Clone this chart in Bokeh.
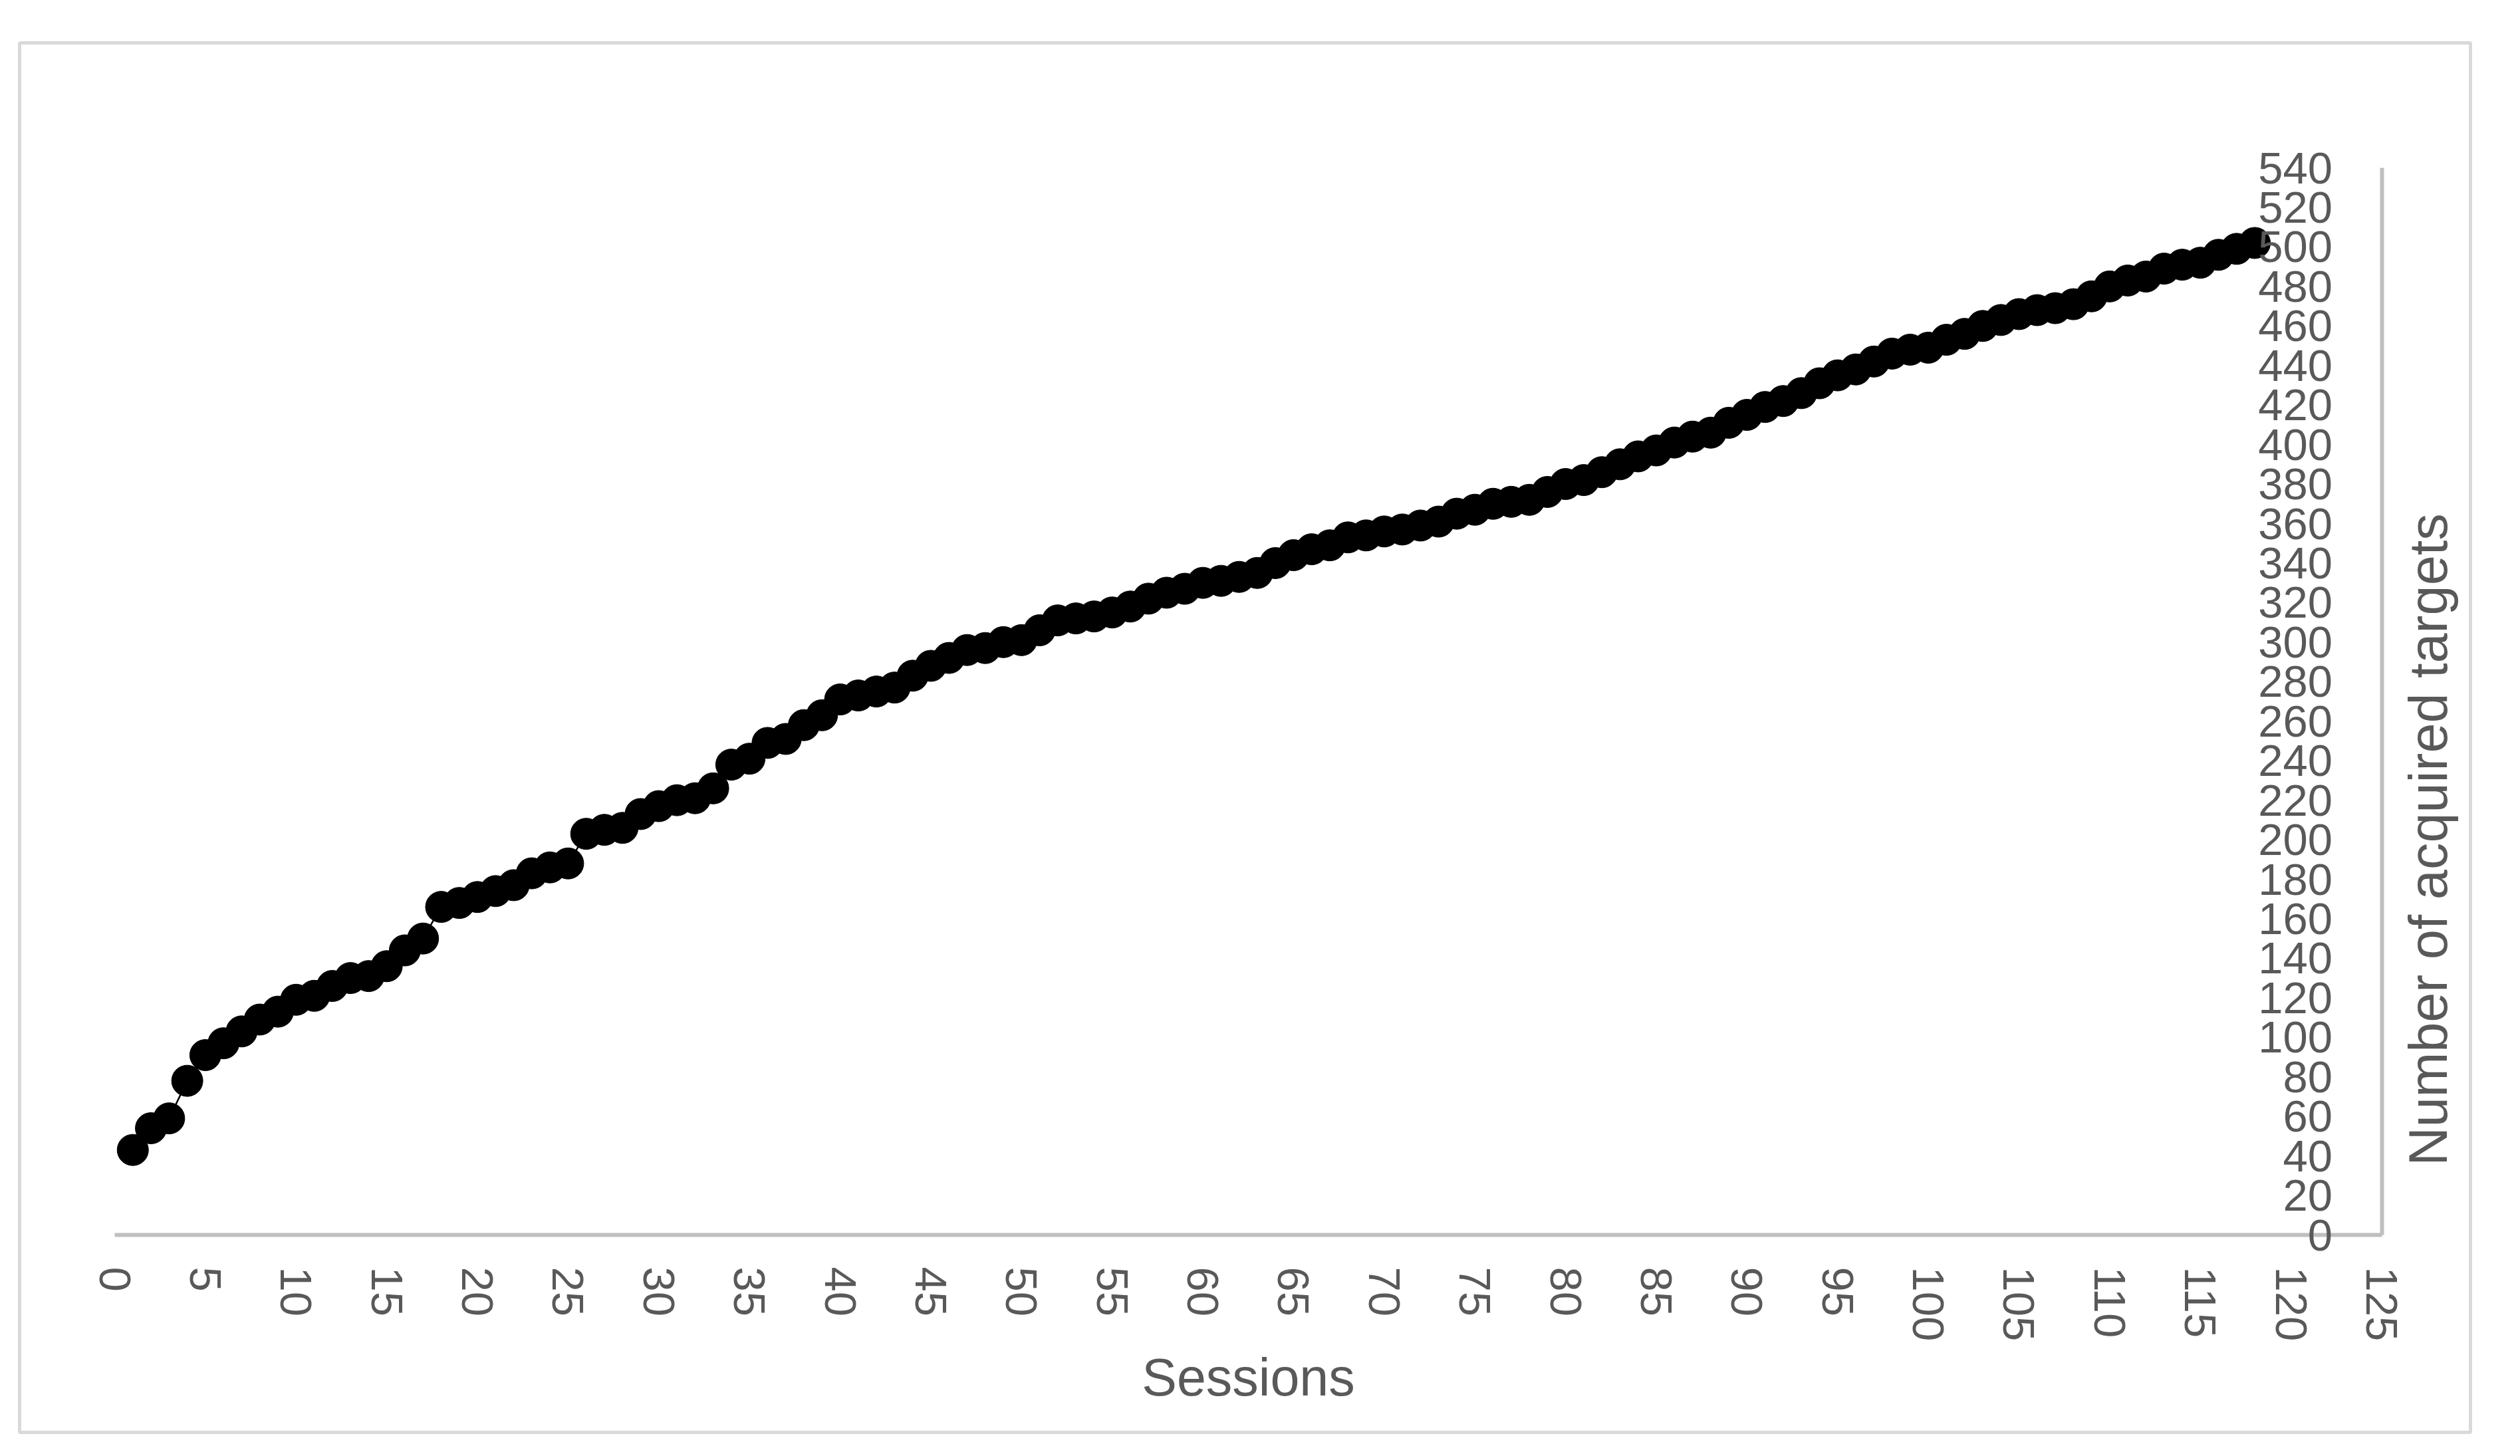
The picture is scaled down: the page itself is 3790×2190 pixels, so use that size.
import math
from bokeh.plotting import figure
from bokeh.models import (ColumnDataSource, FixedTicker, Range1d, Label,
                          LinearAxis)
from bokeh.embed import file_html
from bokeh.resources import INLINE

# ---------------- data ----------------
sessions = list(range(1, 119))
targets = [
    43, 54, 59, 78, 91, 97, 103, 109, 113, 119,
    121, 126, 130, 131, 136, 144, 150, 166, 168, 171,
    174, 177, 183, 186, 188, 203, 205, 206, 213, 217,
    220, 221, 226, 238, 241, 249, 251, 258, 263, 271,
    273, 275, 277, 283, 288, 292, 296, 297, 300, 301,
    306, 311, 312, 313, 315, 318, 322, 325, 327, 330,
    331, 333, 335, 340, 344, 347, 349, 353, 354, 356,
    357, 359, 361, 365, 367, 370, 371, 372, 376, 380,
    382, 386, 390, 394, 397, 401, 404, 406, 411, 415,
    419, 422, 426, 431, 435, 438, 442, 446, 448, 449,
    453, 456, 460, 463, 466, 468, 469, 471, 475, 480,
    483, 485, 489, 491, 492, 496, 499, 502,
]
x_ticks = list(range(0, 130, 5))
y_ticks = list(range(0, 560, 20))
x_title = "Sessions"
y_title = "Number of acquired targets"

# axis extents
X_MIN, X_MAX = 0, 125
Y_MIN, Y_MAX = 0, 540
Y_TITLE_CENTER = 200  # data y at which the vertical title is centred

# ---------------- layout (pixels) ----------------
W, H = 3774, 2174
MB_L, MB_R, MB_T, MB_B = 29, 59, 64, 20       # frame = chart-area border
PX_X0, PX_X1 = 172, 3581.5                    # canvas px of x=0 / x=125
PX_Y0, PX_Y1 = 1857, 252                      # canvas px of y=0 / y=540

fl, fr = MB_L, W - MB_R
ft, fb = MB_T, H - MB_B
ux = (X_MAX - X_MIN) / (PX_X1 - PX_X0)
uy = (Y_MAX - Y_MIN) / (PX_Y0 - PX_Y1)
x_range = Range1d(X_MIN - (PX_X0 - fl) * ux, X_MAX + (fr - PX_X1) * ux)
y_range = Range1d(Y_MIN - (fb - PX_Y0) * uy, Y_MAX + (PX_Y1 - ft) * uy)

FONT = "Liberation Sans"
GREY = "#595959"
AXIS_GREY = "#bfbfbf"

p = figure(
    width=W, height=H, x_range=x_range, y_range=y_range,
    x_axis_location=None, y_axis_location=None,
    output_backend="svg", toolbar_location=None,
    min_border_left=MB_L, min_border_right=MB_R,
    min_border_top=MB_T, min_border_bottom=MB_B,
)
p.background_fill_color = "white"
p.border_fill_color = "white"
p.outline_line_color = "#d9d9d9"
p.outline_line_width = 5
p.grid.visible = False

xa = LinearAxis(fixed_location=Y_MIN, bounds=(X_MIN, X_MAX),
                ticker=FixedTicker(ticks=x_ticks))
xa.minor_tick_line_color = None
xa.major_tick_line_color = None
xa.major_tick_out = 0
xa.major_tick_in = 0
xa.major_label_orientation = -math.pi / 2
xa.major_label_standoff = 48
xa.major_label_text_font = FONT
xa.major_label_text_font_size = "67px"
xa.major_label_text_color = GREY
xa.axis_line_color = AXIS_GREY
xa.axis_line_width = 6
xa.axis_label = x_title
xa.axis_label_text_font = FONT
xa.axis_label_text_font_size = "79px"
xa.axis_label_text_font_style = "normal"
xa.axis_label_text_color = GREY
xa.axis_label_standoff = 7
p.add_layout(xa, "below")

ya = LinearAxis(fixed_location=X_MAX, bounds=(Y_MIN, Y_MAX),
                ticker=FixedTicker(ticks=y_ticks))
ya.minor_tick_line_color = None
ya.major_tick_line_color = None
ya.major_tick_out = 0
ya.major_tick_in = 0
ya.major_label_standoff = 74
ya.major_label_text_font = FONT
ya.major_label_text_font_size = "67px"
ya.major_label_text_color = GREY
ya.axis_line_color = AXIS_GREY
ya.axis_line_width = 6
p.add_layout(ya, "left")

src = ColumnDataSource(dict(session=sessions, targets=targets))
p.line("session", "targets", source=src, line_color="black", line_width=2.5)
p.scatter("session", "targets", source=src, size=47, marker="circle",
          fill_color="black", line_color="black")

ytitle = Label(x=X_MAX, y=Y_TITLE_CENTER, x_offset=70, text=y_title,
               angle=math.pi / 2, text_align="center", text_baseline="middle",
               text_font=FONT, text_font_size="81px", text_color=GREY)
p.add_layout(ytitle)

open("out.html", "w").write(file_html(p, INLINE))
